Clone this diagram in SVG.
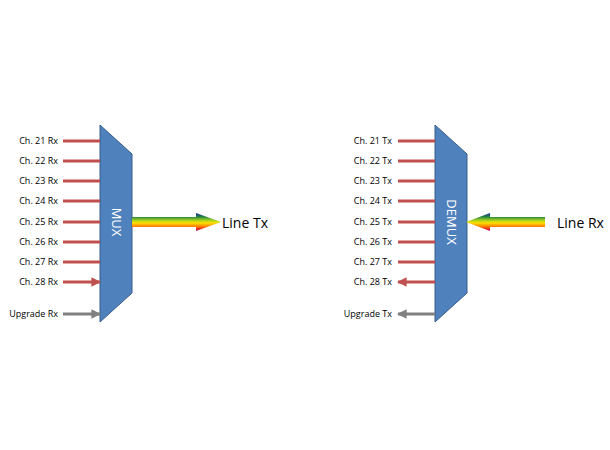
<svg xmlns="http://www.w3.org/2000/svg" width="610" height="450" viewBox="0 0 610 450">
<defs>
<linearGradient id="rb" x1="0" y1="0" x2="0" y2="1">
<stop offset="0" stop-color="#2020b0"/><stop offset="0.2" stop-color="#208040"/><stop offset="0.4" stop-color="#a0d020"/><stop offset="0.55" stop-color="#ffe000"/><stop offset="0.75" stop-color="#ff8000"/><stop offset="0.9" stop-color="#e02020"/><stop offset="1" stop-color="#b00080"/>
</linearGradient>
<marker id="ar" viewBox="0 0 10 10" refX="9" refY="5" markerWidth="3.2" markerHeight="3.2" orient="auto"><path d="M0,0L10,5L0,10z" fill="#c0504d"/></marker>
<marker id="ag" viewBox="0 0 10 10" refX="9" refY="5" markerWidth="3.2" markerHeight="3.2" orient="auto"><path d="M0,0L10,5L0,10z" fill="#808080"/></marker>
</defs>
<style>
.l{font-family:"Open Sans","Liberation Sans",sans-serif;font-size:9px;fill:#000;text-anchor:end}
.b{fill:#4f81bd;stroke:#385d8a;stroke-width:1}
.r{stroke:#c0504d;stroke-width:3;fill:none;marker-end:url(#ar)}
.g{stroke:#808080;stroke-width:3;fill:none;marker-end:url(#ag)}
.w{font-family:"Open Sans","Liberation Sans",sans-serif;font-size:13px;fill:#fff;text-anchor:middle}
.big{font-family:"Open Sans","Liberation Sans",sans-serif;font-size:14px;fill:#000}
</style>
<g id="mux"><path class="b" d="M100,125L132,154L132,293L100,322Z"/><text class="w" transform="translate(112,222) rotate(90)">MUX</text></g>
<g id="demux"><path class="b" d="M435,125L467,154L467,293L435,322Z"/><text class="w" transform="translate(447,222) rotate(90)">DEMUX</text></g>
<g id="labels">
<text class="l" x="58" y="144">Ch. 21 Rx</text><text class="l" x="58" y="164">Ch. 22 Rx</text><text class="l" x="58" y="184">Ch. 23 Rx</text><text class="l" x="58" y="204">Ch. 24 Rx</text><text class="l" x="58" y="225">Ch. 25 Rx</text><text class="l" x="58" y="245">Ch. 26 Rx</text><text class="l" x="58" y="265">Ch. 27 Rx</text><text class="l" x="58" y="285">Ch. 28 Rx</text><text class="l" x="58" y="317">Upgrade Rx</text>
<text class="l" x="392" y="144">Ch. 21 Tx</text><text class="l" x="392" y="164">Ch. 22 Tx</text><text class="l" x="392" y="184">Ch. 23 Tx</text><text class="l" x="392" y="204">Ch. 24 Tx</text><text class="l" x="392" y="225">Ch. 25 Tx</text><text class="l" x="392" y="245">Ch. 26 Tx</text><text class="l" x="392" y="265">Ch. 27 Tx</text><text class="l" x="392" y="285">Ch. 28 Tx</text><text class="l" x="392" y="317">Upgrade Tx</text>
<text class="big" x="222" y="228">Line Tx</text><text class="big" x="557" y="228">Line Rx</text>
</g>
<g id="connectors">
<path class="r" d="M63,141H100M63,161H100M63,181H100M63,201H100M63,222H100M63,242H100M63,262H100M63,282H100"/>
<path class="g" d="M63,314H100"/>
<path class="r" d="M435,141H398M435,161H398M435,181H398M435,201H398M435,222H398M435,242H398M435,262H398M435,282H398"/>
<path class="g" d="M435,314H398"/>
<path fill="url(#rb)" d="M132,217H196V213L221,222L196,231V227H132Z"/>
<path fill="url(#rb)" d="M545,217H490V213L466,222L490,231V227H545Z"/>
</g>
</svg>
